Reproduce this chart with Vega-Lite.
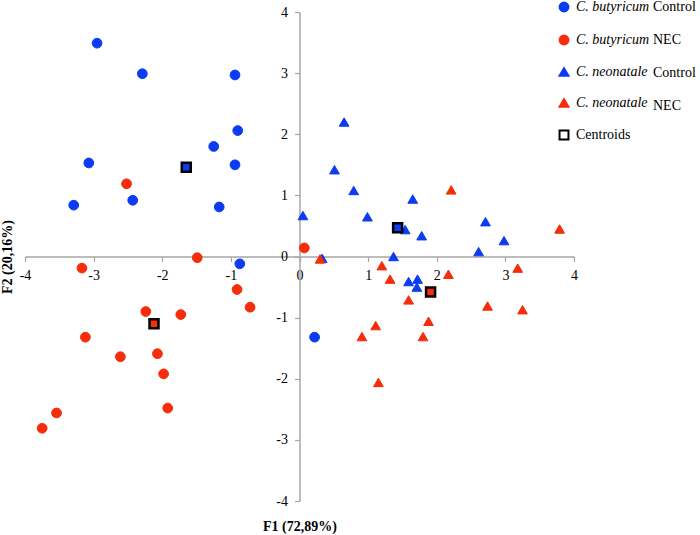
{
  "$schema": "https://vega.github.io/schema/vega-lite/v6.json",
  "width": 549,
  "height": 489,
  "autosize": "none",
  "padding": {"left": 25, "top": 12, "right": 126, "bottom": 34},
  "background": "white",
  "config": {
    "view": {"stroke": null},
    "font": "Liberation Serif",
    "style": {
      "guide-label": {"font": "Liberation Serif", "fontSize": 14, "fill": "black"},
      "guide-title": {"font": "Liberation Serif", "fontSize": 14, "fill": "black"}
    },
    "axis": {
      "grid": false,
      "domainColor": "#a6a6a6",
      "domainWidth": 1.5,
      "tickColor": "#a6a6a6",
      "tickWidth": 1.2,
      "tickSize": 5,
      "labelFont": "Liberation Serif",
      "labelFontSize": 14,
      "labelColor": "black",
      "labelPadding": 7,
      "labelFlush": false,
      "labelOverlap": false,
      "titleFont": "Liberation Serif",
      "titleFontSize": 14,
      "titleFontWeight": "bold",
      "titleColor": "black"
    }
  },
  "datasets": {
    "points": [
      {"x": -2.95, "y": 3.49, "group": "C. butyricum Control"},
      {"x": -2.29, "y": 2.99, "group": "C. butyricum Control"},
      {"x": -0.94, "y": 2.97, "group": "C. butyricum Control"},
      {"x": -0.90, "y": 2.06, "group": "C. butyricum Control"},
      {"x": -1.25, "y": 1.80, "group": "C. butyricum Control"},
      {"x": -0.94, "y": 1.50, "group": "C. butyricum Control"},
      {"x": -3.07, "y": 1.53, "group": "C. butyricum Control"},
      {"x": -2.43, "y": 0.92, "group": "C. butyricum Control"},
      {"x": -3.29, "y": 0.84, "group": "C. butyricum Control"},
      {"x": -1.17, "y": 0.81, "group": "C. butyricum Control"},
      {"x": -0.87, "y": -0.12, "group": "C. butyricum Control"},
      {"x": 0.22, "y": -1.32, "group": "C. butyricum Control"},
      {"x": -2.52, "y": 1.19, "group": "C. butyricum NEC"},
      {"x": -1.49, "y": -0.02, "group": "C. butyricum NEC"},
      {"x": 0.07, "y": 0.14, "group": "C. butyricum NEC"},
      {"x": -3.17, "y": -0.19, "group": "C. butyricum NEC"},
      {"x": -0.91, "y": -0.54, "group": "C. butyricum NEC"},
      {"x": -0.72, "y": -0.83, "group": "C. butyricum NEC"},
      {"x": -2.24, "y": -0.90, "group": "C. butyricum NEC"},
      {"x": -1.73, "y": -0.95, "group": "C. butyricum NEC"},
      {"x": -3.12, "y": -1.32, "group": "C. butyricum NEC"},
      {"x": -2.61, "y": -1.64, "group": "C. butyricum NEC"},
      {"x": -2.07, "y": -1.59, "group": "C. butyricum NEC"},
      {"x": -1.98, "y": -1.92, "group": "C. butyricum NEC"},
      {"x": -1.92, "y": -2.48, "group": "C. butyricum NEC"},
      {"x": -3.54, "y": -2.56, "group": "C. butyricum NEC"},
      {"x": -3.75, "y": -2.81, "group": "C. butyricum NEC"},
      {"x": 0.65, "y": 2.20, "group": "C. neonatale Control"},
      {"x": 0.51, "y": 1.42, "group": "C. neonatale Control"},
      {"x": 0.79, "y": 1.08, "group": "C. neonatale Control"},
      {"x": 0.05, "y": 0.67, "group": "C. neonatale Control"},
      {"x": 0.99, "y": 0.65, "group": "C. neonatale Control"},
      {"x": 1.65, "y": 0.94, "group": "C. neonatale Control"},
      {"x": 1.54, "y": 0.44, "group": "C. neonatale Control"},
      {"x": 1.78, "y": 0.34, "group": "C. neonatale Control"},
      {"x": 2.71, "y": 0.57, "group": "C. neonatale Control"},
      {"x": 2.98, "y": 0.26, "group": "C. neonatale Control"},
      {"x": 2.61, "y": 0.08, "group": "C. neonatale Control"},
      {"x": 1.37, "y": 0.0, "group": "C. neonatale Control"},
      {"x": 0.33, "y": -0.03, "group": "C. neonatale Control"},
      {"x": 1.59, "y": -0.41, "group": "C. neonatale Control"},
      {"x": 1.72, "y": -0.37, "group": "C. neonatale Control"},
      {"x": 1.71, "y": -0.50, "group": "C. neonatale Control"},
      {"x": 0.30, "y": -0.04, "group": "C. neonatale  NEC"},
      {"x": 2.21, "y": 1.09, "group": "C. neonatale  NEC"},
      {"x": 3.79, "y": 0.45, "group": "C. neonatale  NEC"},
      {"x": 1.20, "y": -0.15, "group": "C. neonatale  NEC"},
      {"x": 1.32, "y": -0.37, "group": "C. neonatale  NEC"},
      {"x": 2.17, "y": -0.29, "group": "C. neonatale  NEC"},
      {"x": 3.18, "y": -0.19, "group": "C. neonatale  NEC"},
      {"x": 1.59, "y": -0.71, "group": "C. neonatale  NEC"},
      {"x": 2.74, "y": -0.81, "group": "C. neonatale  NEC"},
      {"x": 3.25, "y": -0.87, "group": "C. neonatale  NEC"},
      {"x": 1.88, "y": -1.06, "group": "C. neonatale  NEC"},
      {"x": 1.11, "y": -1.13, "group": "C. neonatale  NEC"},
      {"x": 0.91, "y": -1.31, "group": "C. neonatale  NEC"},
      {"x": 1.80, "y": -1.31, "group": "C. neonatale  NEC"},
      {"x": 1.15, "y": -2.06, "group": "C. neonatale  NEC"}
    ],
    "centroids": [
      {"x": -1.65, "y": 1.46, "group": "C. butyricum Control"},
      {"x": -2.12, "y": -1.10, "group": "C. butyricum NEC"},
      {"x": 1.43, "y": 0.47, "group": "C. neonatale Control"},
      {"x": 1.91, "y": -0.58, "group": "C. neonatale  NEC"}
    ]
  },
  "encoding": {
    "x": {
      "field": "x", "type": "quantitative",
      "scale": {"domain": [-4, 4], "nice": false, "zero": false},
      "axis": {
        "values": [-4, -3, -2, -1, 0, 1, 2, 3, 4],
        "labelExpr": "'' + datum.value",
        "offset": -244.5,
        "title": "F1 (72,89%)",
        "titleBaseline": "middle",
        "titleY": 270,
        "encode": {"ticks": {"update": {"y": {"value": -5}}}}
      }
    },
    "y": {
      "field": "y", "type": "quantitative",
      "scale": {"domain": [-4, 4], "nice": false, "zero": false},
      "axis": {
        "values": [-4, -3, -2, -1, 0, 1, 2, 3, 4],
        "labelExpr": "'' + datum.value",
        "offset": -274.5,
        "title": "F2 (20,16%)",
        "titleBaseline": "middle",
        "titleX": -292,
        "encode": {"ticks": {"update": {"x": {"value": 5}}}}
      }
    }
  },
  "layer": [
    {
      "data": {"name": "points"},
      "mark": {"type": "point", "filled": true, "size": 95, "strokeWidth": 1},
      "encoding": {
        "color": {
          "field": "group", "type": "nominal",
          "scale": {
            "domain": ["C. butyricum Control", "C. butyricum NEC", "C. neonatale Control", "C. neonatale  NEC", "Centroids"],
            "range": ["#0b3cf2", "#f52d0a", "#0b3cf2", "#f52d0a", "white"]
          },
          "legend": {
            "title": null,
            "orient": "none",
            "legendX": 532,
            "legendY": -12,
            "padding": 0,
            "symbolSize": 80,
            "symbolStrokeWidth": 2,
            "symbolOpacity": 1,
            "labelFont": "Liberation Serif",
            "labelFontSize": 14,
            "labelColor": "black",
            "labelExpr": "datum.label == 'Centroids' ? datum.label : slice(datum.label, 0, 12)",
            "labelFontStyle": {"expr": "datum.label == 'Centroids' ? 'normal' : 'italic'"},
            "labelOffset": 5,
            "rowPadding": 15
          }
        },
        "stroke": {
          "field": "group", "type": "nominal",
          "scale": {
            "domain": ["C. butyricum Control", "C. butyricum NEC", "C. neonatale Control", "C. neonatale  NEC", "Centroids"],
            "range": ["#0b3cf2", "#f52d0a", "#0b3cf2", "#f52d0a", "black"]
          }
        },
        "shape": {
          "field": "group", "type": "nominal",
          "scale": {
            "domain": ["C. butyricum Control", "C. butyricum NEC", "C. neonatale Control", "C. neonatale  NEC", "Centroids"],
            "range": ["circle", "circle", "triangle-up", "triangle-up", "square"]
          }
        },
        "opacity": {
          "field": "group", "type": "nominal",
          "scale": {
            "domain": ["C. butyricum Control", "C. butyricum NEC", "C. neonatale Control", "C. neonatale  NEC"],
            "range": [1, 1, 1, 1]
          },
          "legend": {
            "title": null,
            "orient": "none",
            "legendX": 609,
            "legendY": -12,
            "padding": 0,
            "symbolSize": 80,
            "symbolStrokeWidth": 2,
            "symbolFillColor": "transparent",
            "symbolStrokeColor": "transparent",
            "labelFont": "Liberation Serif",
            "labelFontSize": 14,
            "labelColor": "black",
            "labelFontStyle": "normal",
            "labelExpr": "slice(datum.label, 12)",
            "labelOffset": 5,
            "rowPadding": 15,
            "encode": {
              "symbols": {
                "update": {
                  "fill": {"value": "transparent"},
                  "stroke": {"value": "transparent"},
                  "opacity": {"value": 0}
                }
              }
            }
          }
        }
      }
    },
    {
      "data": {"name": "centroids"},
      "mark": {"type": "square", "filled": true, "opacity": 1, "size": 81, "stroke": "black", "strokeWidth": 2.5},
      "encoding": {
        "color": {"field": "group", "type": "nominal"}
      }
    }
  ]
}
